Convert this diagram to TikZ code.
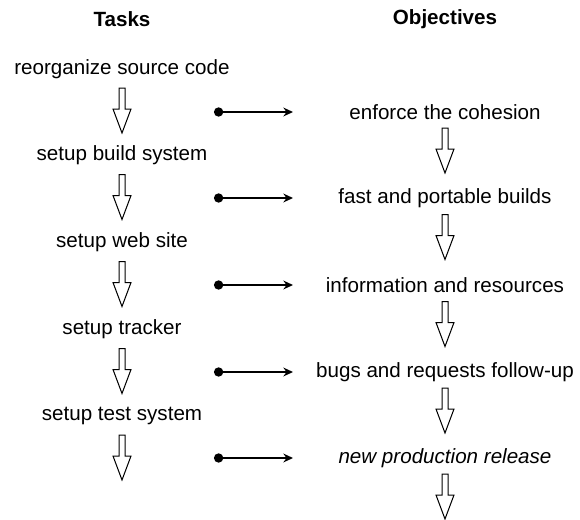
\documentclass[tikz,border=0pt]{standalone}
\usepackage{fontspec}
\setmainfont{Liberation Sans}
\usepackage{tikz}
\usetikzlibrary{arrows.meta, positioning, calc}
\tikzset{
   myhead/.style={font=\fontsize{10.3}{12}\selectfont\bfseries},
   mytask/.style={font=\fontsize{10.3}{12}\selectfont, inner sep=1pt},
   myobj/.style={font=\fontsize{10.3}{12}\selectfont, inner sep=1pt},
   myhollow/.pic={\draw[line width=0.5pt, fill=white] (-3,-22) -- (-3,-1) -- (-9,-1) -- (0,23) -- (9,-1) -- (3,-1) -- (3,-22) -- cycle;}
}
\begin{document}
\begin{tikzpicture}[x=0.5pt,y=-0.5pt]
        \tikzstyle{line} = [draw, line width=1.1pt, {Circle[length=4.6pt]}-{Stealth[length=4.8pt,width=4.4pt]}]
            \useasboundingbox (0,0) rectangle (580,520);
            % headers
            \node[myhead] (tasks) at (122,19) {Tasks};
            \node[myhead] (objs) at (445,19) {Objectives};
            % tasks column
            \node[mytask] (t1) at (122,69)  {reorganize source code};
            \node[mytask] (t2) at (122,155) {setup build system};
            \node[mytask] (t3) at (122,242) {setup web site};
            \node[mytask] (t4) at (122,329) {setup tracker};
            \node[mytask] (t5) at (122,416) {setup test system};
            \coordinate (t6) at (122,502);
            % objectives column
            \node[myobj] (o1) at (445,112) {enforce the cohesion};
            \node[myobj] (o2) at (445,198) {fast and portable builds};
            \node[myobj] (o3) at (445,285) {information and resources};
            \node[myobj] (o4) at (445,372) {bugs and requests follow-up};
            \node[myobj] (o5) at (445,458) {\itshape new production release};
            \coordinate (o6) at (445,536);
            % hollow arrows
            \pic at ($(t1)!0.5!(t2)+(0,-2)$) {myhollow};
            \pic at ($(t2)!0.5!(t3)+(0,-2)$) {myhollow};
            \pic at ($(t3)!0.5!(t4)+(0,-2)$) {myhollow};
            \pic at ($(t4)!0.5!(t5)+(0,-2)$) {myhollow};
            \pic at ($(t5)!0.5!(t6)+(0,-2)$) {myhollow};
            \pic at ($(o1)!0.5!(o2)+(0,-5)$) {myhollow};
            \pic at ($(o2)!0.5!(o3)+(0,-5)$) {myhollow};
            \pic at ($(o3)!0.5!(o4)+(0,-5)$) {myhollow};
            \pic at ($(o4)!0.5!(o5)+(0,-5)$) {myhollow};
            \pic at ($(o5)!0.5!(o6)+(0,-1)$) {myhollow};
            % links
            \foreach \i/\y in {1/112, 2/198, 3/285, 4/372, 5/458} {
                \coordinate (s\i) at (214,\y);
                \coordinate (e\i) at (293,\y);
                \path [line] (s\i) -- (e\i);
            }
      \end{tikzpicture}
\end{document}
